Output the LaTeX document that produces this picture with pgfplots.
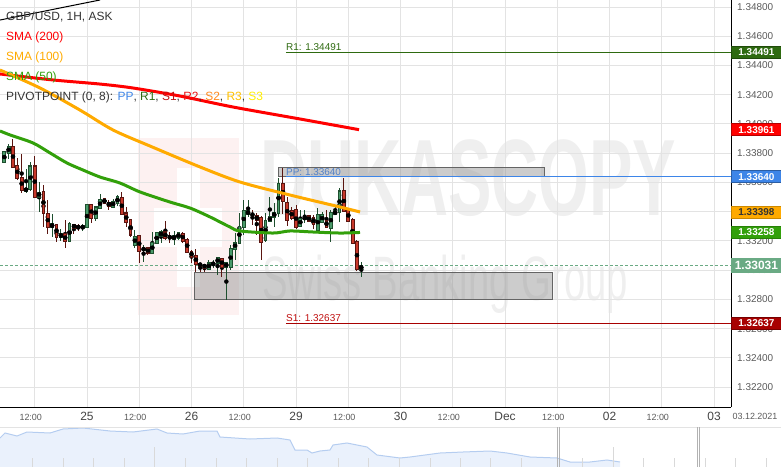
\documentclass[border=0pt]{standalone}
\usepackage{pgfplots}
\pgfplotsset{compat=1.18}
\usepackage{pgfplotstable}
\usepackage{fontspec}
\setmainfont{Liberation Sans}

\definecolor{gridc}{HTML}{E3E3E3}
\definecolor{upfill}{HTML}{4A9A6A}
\definecolor{upedge}{HTML}{1E4F2E}
\definecolor{dnfill}{HTML}{C8392B}
\definecolor{dnedge}{HTML}{5A1510}
\definecolor{sma200}{HTML}{FF0000}
\definecolor{sma100}{HTML}{FFAA00}
\definecolor{sma50}{HTML}{32A00A}
\definecolor{ppc}{HTML}{3D85E8}
\definecolor{pptxt}{HTML}{5080C8}
\definecolor{r1c}{HTML}{2E6A10}
\definecolor{s1c}{HTML}{A80000}
\definecolor{s1txt}{HTML}{C01010}
\definecolor{r2c}{HTML}{E81010}
\definecolor{s2c}{HTML}{FF8A1E}
\definecolor{r3c}{HTML}{FFC000}
\definecolor{s3c}{HTML}{FFEE00}
\definecolor{lastc}{HTML}{6AAA84}
\definecolor{tickc}{HTML}{5A5A5A}
\definecolor{daytxt}{HTML}{444444}
\definecolor{txtdark}{HTML}{333333}
\definecolor{boxfill}{HTML}{999999}
\definecolor{boxedge}{HTML}{646464}
\definecolor{navfill}{HTML}{EAF1FC}
\definecolor{navline}{HTML}{B5CDF0}
\definecolor{wm}{HTML}{EFEFEF}
\definecolor{wmpink}{HTML}{FDF1F1}

% hourly candles, t = hours from 25 Nov 00:00 (weekend hidden)
\pgfplotstableread{
t   o       h       l       c
-19 1.33740 1.33808 1.33733 1.33808
-18 1.33801 1.33863 1.33760 1.33849
-14 1.33542 1.33692 1.33528 1.33562
-13 1.33555 1.33740 1.33542 1.33713
-11 1.33501 1.33603 1.33398 1.33535
-8  1.33295 1.33384 1.33227 1.33316
-6  1.33227 1.33282 1.33199 1.33247
-4  1.33199 1.33330 1.33193 1.33316
-1  1.33288 1.33316 1.33268 1.33302
0   1.33295 1.33446 1.33288 1.33446
2   1.33357 1.33432 1.33336 1.33432
3   1.33425 1.33521 1.33418 1.33487
6   1.33432 1.33487 1.33432 1.33473
7   1.33460 1.33514 1.33439 1.33501
11  1.33172 1.33275 1.33152 1.33234
13  1.33138 1.33172 1.33056 1.33152
15  1.33117 1.33261 1.33111 1.33193
16  1.33186 1.33261 1.33186 1.33254
17  1.33234 1.33275 1.33186 1.33261
20  1.33213 1.33268 1.33172 1.33234
21  1.33220 1.33261 1.33206 1.33254
28  1.33008 1.33070 1.33001 1.33049
29  1.33035 1.33070 1.33015 1.33056
30  1.33049 1.33090 1.32967 1.33083
32  1.33022 1.33049 1.32796 1.33049
33  1.33022 1.33172 1.33001 1.33152
34  1.33145 1.33254 1.33070 1.33193
35  1.33186 1.33391 1.33186 1.33302
36  1.33295 1.33480 1.33241 1.33405
37  1.33384 1.33480 1.33364 1.33405
41  1.33206 1.33391 1.33193 1.33343
42  1.33336 1.33501 1.33330 1.33364
43  1.33364 1.33460 1.33295 1.33398
44  1.33391 1.33630 1.33364 1.33596
49  1.33302 1.33412 1.33295 1.33357
50  1.33350 1.33412 1.33323 1.33364
53  1.33275 1.33425 1.33268 1.33384
54  1.33330 1.33398 1.33323 1.33384
56  1.33288 1.33412 1.33193 1.33398
57  1.33384 1.33446 1.33377 1.33405
58  1.33398 1.33562 1.33330 1.33542
63  1.33008 1.33056 1.32953 1.33031
}\upbars

\pgfplotstableread{
t   o       h       l       c
-17 1.33849 1.33897 1.33699 1.33706
-16 1.33719 1.33767 1.33617 1.33630
-15 1.33637 1.33795 1.33528 1.33548
-12 1.33713 1.33781 1.33501 1.33501
-10 1.33535 1.33583 1.33295 1.33391
-9  1.33391 1.33480 1.33247 1.33295
-7  1.33316 1.33316 1.33193 1.33227
-5  1.33247 1.33343 1.33152 1.33199
-3  1.33316 1.33316 1.33247 1.33288
-2  1.33302 1.33316 1.33268 1.33288
1   1.33446 1.33446 1.33323 1.33357
4   1.33487 1.33487 1.33460 1.33460
5   1.33466 1.33480 1.33412 1.33439
8   1.33501 1.33535 1.33377 1.33384
9   1.33391 1.33432 1.33295 1.33330
10  1.33343 1.33343 1.33227 1.33241
12  1.33234 1.33234 1.33049 1.33131
14  1.33152 1.33158 1.33104 1.33117
18  1.33261 1.33336 1.33206 1.33220
19  1.33234 1.33261 1.33186 1.33220
22  1.33254 1.33261 1.33186 1.33199
23  1.33213 1.33220 1.33117 1.33124
24  1.33131 1.33138 1.33049 1.33090
25  1.33104 1.33145 1.32987 1.33042
26  1.33049 1.33049 1.32987 1.33029
27  1.33042 1.33042 1.32987 1.33015
31  1.33083 1.33083 1.32953 1.33022
38  1.33391 1.33412 1.33309 1.33371
39  1.33371 1.33391 1.33241 1.33343
40  1.33357 1.33371 1.33070 1.33193
45  1.33596 1.33699 1.33384 1.33473
46  1.33466 1.33501 1.33302 1.33343
47  1.33412 1.33432 1.33343 1.33357
48  1.33412 1.33446 1.33282 1.33295
51  1.33371 1.33377 1.33330 1.33336
52  1.33364 1.33377 1.33282 1.33316
55  1.33343 1.33412 1.33288 1.33295
59  1.33542 1.33630 1.33398 1.33405
60  1.33412 1.33425 1.33330 1.33336
61  1.33350 1.33357 1.33186 1.33186
62  1.33199 1.33206 1.32994 1.33008
}\dnbars

\newcommand\fsz[1]{\fontsize{#1}{#1}\selectfont}
\newcommand\dlab[1]{{\fsz{12}\color{daytxt}#1}}
\newcommand\hlab{{\fsz{9}\color{tickc}12:00}}

% wick, body outline, body fill
\newcommand\candles[3]{%
  \addplot[only marks, mark=none, error bars/.cd, y dir=both, y explicit, error mark=none,
    error bar style={draw=#2, line width=1bp}]
    table[x=t, y expr={(\thisrow{h}+\thisrow{l})/2}, y error expr={(\thisrow{h}-\thisrow{l})/2}] {#1};
  \addplot[only marks, mark=none, error bars/.cd, y dir=both, y explicit, error mark=none,
    error bar style={draw=#2, line width=3.8bp}]
    table[x=t, y expr={(\thisrow{o}+\thisrow{c})/2}, y error expr={abs(\thisrow{c}-\thisrow{o})/2+0.00004}] {#1};
  \addplot[only marks, mark=none, error bars/.cd, y dir=both, y explicit, error mark=none,
    error bar style={draw=#3, line width=1.8bp}]
    table[x=t, y expr={(\thisrow{o}+\thisrow{c})/2}, y error expr={max(abs(\thisrow{c}-\thisrow{o})/2-0.00003,0.00001)}] {#1};
}

\begin{document}
\begin{tikzpicture}
\useasboundingbox (0,-60bp) rectangle (781bp,407bp);

% watermark
\begin{scope}[x=1bp, y=1bp]
  \fill[wmpink] (138,92) rectangle (239,269);
  \fill[white] (177,120) rectangle (200,239);
  \fill[white] (154,160) rectangle (222,199);
  \node[anchor=base west, inner sep=0, xscale=0.6, text=wm, font=\fsz{109}\bfseries] at (260,192) {DUKASCOPY};
  \node[anchor=base west, inner sep=0, xscale=0.61, text=wm, font=\fsz{63}] at (262,107) {Swiss Banking Group};
\end{scope}

\begin{axis}[
  name=main, at={(0,0)}, anchor=south west,
  scale only axis, width=731bp, height=407bp,
  xmin=-19.98, xmax=147.9, ymin=1.32064, ymax=1.34848,
  axis x line*=bottom, axis y line*=right,
  axis line style={-, black, line width=1bp},
  major tick length=0pt,
  grid=major, grid style={gridc, line width=1bp},
  xtick={-12,0,...,144},
  xticklabels={,\dlab{25},,\dlab{26},,\dlab{29},,\dlab{30},,\dlab{Dec},,\dlab{02},,\dlab{03}},
  extra x ticks={-12.92,11.08,35.08,59.08,83.08,107.08,131.08},
  extra x tick labels={\hlab,\hlab,\hlab,\hlab,\hlab,\hlab,\hlab},
  extra x tick style={grid=none},
  xticklabel style={anchor=base, yshift=-13bp, inner sep=0pt},
  ytick={1.322,1.324,1.326,1.328,1.330,1.332,1.334,1.336,1.338,1.340,1.342,1.344,1.346,1.348},
  yticklabels={1.32200,1.32400,1.32600,1.32800,1.33000,1.33200,1.33400,1.33600,1.33800,1.34000,1.34200,1.34400,1.34600,1.34800},
  yticklabel style={anchor=west, xshift=6bp, inner sep=0pt, font=\fsz{10}, text=tickc},
  clip mode=individual,
]
% drawn rectangles
\addplot[fill=boxfill, fill opacity=0.5, draw=boxedge, line width=1bp]
  coordinates {(43.9,1.33640) (105.0,1.33640) (105.0,1.33699) (43.9,1.33699) (43.9,1.33640)};
\addplot[fill=boxfill, fill opacity=0.5, draw=boxedge, line width=1bp]
  coordinates {(24.8,1.32796) (106.8,1.32796) (106.8,1.32987) (24.8,1.32987) (24.8,1.32796)};

% pivot levels
\addplot[r1c, line width=1bp] coordinates {(45.7,1.34491) (147.9,1.34491)};
\addplot[ppc, line width=1bp] coordinates {(45.7,1.33640) (147.9,1.33640)};
\addplot[s1c, line width=1bp] coordinates {(45.7,1.32637) (147.9,1.32637)};
\node[anchor=base west, inner sep=0, font=\fsz{10}, text=r1c, yshift=1.5bp] at (axis cs:45.7,1.34491) {R1: 1.34491};
\node[anchor=base west, inner sep=0, font=\fsz{10}, text=pptxt, yshift=1.5bp] at (axis cs:45.7,1.33640) {PP: 1.33640};
\node[anchor=base west, inner sep=0, font=\fsz{10}, text=s1txt, yshift=1.5bp] at (axis cs:45.7,1.32637) {S1: 1.32637};

% last price
\addplot[lastc, line width=1bp, dash pattern=on 3bp off 2bp] coordinates {(-19.98,1.33031) (147.9,1.33031)};

% trend line
\addplot[black, line width=1bp] coordinates {(-19.98,1.34711) (2.99,1.34848)};

\candles{\upbars}{upedge}{upfill}
\candles{\dnbars}{dnedge}{dnfill}

% moving averages
\addplot[sma200, line width=3bp, smooth] coordinates {
  (-19.98,1.34342) (-7.81,1.34301) (2.99,1.34273) (10.57,1.34246) (21.36,1.34191)
  (33.53,1.34116) (48.92,1.34034) (62.47,1.33961)};
\addplot[sma100, line width=3bp, smooth] coordinates {
  (-19.98,1.34369) (-10.79,1.34246) (-1.61,1.34095) (5.97,1.33959) (14.47,1.33849)
  (25.95,1.33706) (35.14,1.33603) (46.62,1.33514) (58.11,1.33432) (62.70,1.33398)};
\addplot[sma50, line width=3bp, smooth] coordinates {
  (-19.98,1.33952) (-17.68,1.33925) (-12.40,1.33870) (-8.50,1.33802) (-4.59,1.33733)
  (-0.92,1.33685) (2.99,1.33637) (7.58,1.33596) (12.17,1.33535) (19.06,1.33466)
  (23.66,1.33425) (28.25,1.33364) (32.84,1.33295) (35.14,1.33268) (42.72,1.33254)
  (46.62,1.33268) (51.91,1.33261) (58.11,1.33254) (62.70,1.33258)};

\coordinate (vR1) at (axis cs:147.9,1.34491);
\coordinate (vS200) at (axis cs:147.9,1.33961);
\coordinate (vPP) at (axis cs:147.9,1.33640);
\coordinate (vS100) at (axis cs:147.9,1.33398);
\coordinate (vS50) at (axis cs:147.9,1.33258);
\coordinate (vLast) at (axis cs:147.9,1.33031);
\coordinate (vS1) at (axis cs:147.9,1.32637);
\end{axis}

% value tags on the price scale
\tikzset{vtag/.style={anchor=west, minimum width=50bp, minimum height=12bp, inner sep=0pt,
  font=\fsz{10}\bfseries, text=white, line width=0.8bp}}
\node[vtag, fill=r1c, draw=r1c!70!black] at (vR1) {1.34491};
\node[vtag, fill=sma200, draw=sma200!70!black] at (vS200) {1.33961};
\node[vtag, fill=ppc, draw=ppc!70!black] at (vPP) {1.33640};
\node[vtag, fill=sma100, draw=sma100!80!black, text=txtdark] at (vS100) {1.33398};
\node[vtag, fill=sma50, draw=sma50!80!black] at (vS50) {1.33258};
\node[vtag, fill=lastc, draw=lastc, minimum height=13.5bp, font=\fsz{12}\bfseries] at (vLast) {1.33031};
\node[vtag, fill=s1c, draw=s1c!70!black] at (vS1) {1.32637};

% navigator
\begin{axis}[
  at={(0,-60bp)}, anchor=south west,
  scale only axis, width=781bp, height=40bp,
  xmin=0, xmax=781, ymin=0, ymax=40, hide axis, clip=false,
]
\addplot[fill=navfill, draw=none] coordinates {
  (0,29) (5,34) (17,31) (27,35) (50,34) (63,38) (83,39) (110,36) (133,35) (157,38)
  (167,34) (183,33) (200,36) (217,36) (220,30) (250,28) (277,29) (290,27) (295,17)
  (307,17) (312,14) (320,16) (330,17) (333,22) (347,24) (367,20) (377,12) (400,9)
  (410,10) (440,14) (463,15) (490,16) (507,14) (530,10) (557,9) (570,5) (590,5)
  (607,7) (620,5)} \closedcycle;
\addplot[navline, line width=1bp] coordinates {
  (0,29) (5,34) (17,31) (27,35) (50,34) (63,38) (83,39) (110,36) (133,35) (157,38)
  (167,34) (183,33) (200,36) (217,36) (220,30) (250,28) (277,29) (290,27) (295,17)
  (307,17) (312,14) (320,16) (330,17) (333,22) (347,24) (367,20) (377,12) (400,9)
  (410,10) (440,14) (463,15) (490,16) (507,14) (530,10) (557,9) (570,5) (590,5)
  (607,7) (620,5)};
\end{axis}

\begin{scope}[x=1bp, y=1bp]
  % legend
  \node[anchor=base west, inner sep=0, font=\fsz{12}, text=txtdark] at (6,387) {GBP/USD, 1H, ASK};
  \node[anchor=base west, inner sep=0, font=\fsz{12}, text=sma200] at (6,367) {SMA (200)};
  \node[anchor=base west, inner sep=0, font=\fsz{12}, text=sma100] at (6,347) {SMA (100)};
  \node[anchor=base west, inner sep=0, font=\fsz{12}, text=sma50] at (6,327) {SMA (50)};
  \node[anchor=base west, inner sep=0, font=\fsz{12}, text=txtdark] at (6,307)
    {PIVOTPOINT (0, 8): \textcolor{ppc}{PP}, \textcolor{r1c}{R1}, \textcolor{s1txt}{S1}, \textcolor{r2c}{R2}, \textcolor{s2c}{S2}, \textcolor{r3c}{R3}, \textcolor{s3c}{S3}};
  % date at the right end of the time scale
  \node[anchor=base, inner sep=0, font=\fsz{9}, text=tickc] at (755,-12.5) {03.12.2021};
  % navigator frame
  \draw[gridc, line width=0.8bp] (0,-20) -- (781,-20);
  \foreach \xx in {32,63,93,124,185,216,246,277,307,338,368,399,430,460,490,521,582,643,674,705,735,766}
    \draw[gray!30, line width=0.6bp] (\xx,-60) -- (\xx,-51);
  \foreach \xx in {154,613}
    \draw[gray!30, line width=0.6bp] (\xx,-60) -- (\xx,-40);
  \foreach \xx in {557,697}
    \draw[gray!60, line width=0.8bp] (\xx,-60) -- (\xx,-20) (\xx+2,-60) -- (\xx+2,-20);
\end{scope}
\end{tikzpicture}
\end{document}
